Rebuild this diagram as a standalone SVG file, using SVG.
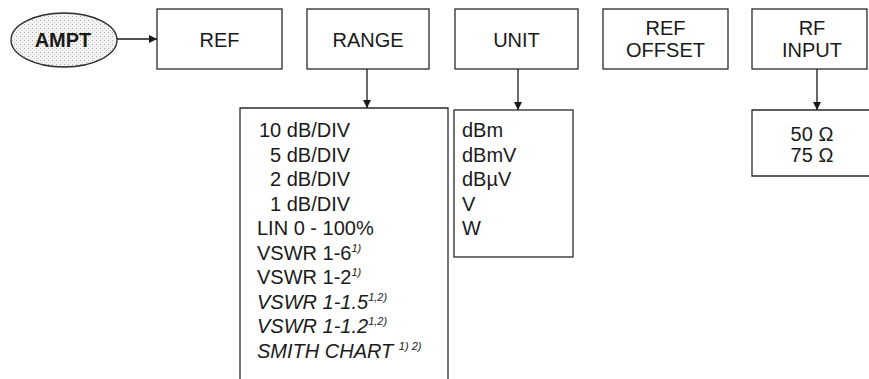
<svg xmlns="http://www.w3.org/2000/svg" width="869" height="379" viewBox="0 0 869 379">
<style>
.box{fill:#fff;stroke:#2a2a2a;stroke-width:1.3}
.lbl{font-family:"Liberation Sans",Arial,sans-serif;font-size:20px;fill:#1a1a1a;text-anchor:middle}
.lst{font-family:"Liberation Sans",Arial,sans-serif;font-size:20px;fill:#1a1a1a}
.it{font-style:italic}
.sup{font-size:11px;font-style:italic}
.con{stroke:#1a1a1a;stroke-width:1.3;fill:none}
</style>
<defs>
<marker id="ah" viewBox="0 0 10 10" refX="10" refY="5" markerWidth="10" markerHeight="8" markerUnits="userSpaceOnUse" orient="auto">
<path d="M0,0 L10,5 L0,10 Z" fill="#1a1a1a"/>
</marker>
<pattern id="stip" width="4" height="4" patternUnits="userSpaceOnUse">
<rect width="4" height="4" fill="#f4f4f4"/>
<rect x="0" y="0" width="1" height="1" fill="#a8a8a8"/>
<rect x="2" y="2" width="1" height="1" fill="#c8c8c8"/>
</pattern>
</defs>
<rect width="869" height="379" fill="#fff"/>
<g id="AMPT">
<ellipse cx="64" cy="40" rx="53" ry="27" fill="url(#stip)" stroke="#2a2a2a" stroke-width="1.3"/>
<text x="63" y="47" class="lbl" style="font-weight:bold">AMPT</text>
</g>
<g id="REF">
<rect class="box" x="157" y="9" width="125" height="60"/>
<text class="lbl" x="219.5" y="47">REF</text>
</g>
<g id="RANGE">
<rect class="box" x="307" y="9" width="122" height="60"/>
<text class="lbl" x="368" y="47">RANGE</text>
</g>
<g id="UNIT">
<rect class="box" x="455" y="9" width="123" height="60"/>
<text class="lbl" x="516.5" y="47">UNIT</text>
</g>
<g id="REF_OFFSET">
<rect class="box" x="603" y="9" width="125" height="60"/>
<text class="lbl" x="665.5" y="35">REF</text>
<text class="lbl" x="665.5" y="57">OFFSET</text>
</g>
<g id="RF_INPUT">
<rect class="box" x="752" y="9" width="115" height="60"/>
<text class="lbl" x="812" y="35">RF</text>
<text class="lbl" x="812" y="57">INPUT</text>
</g>
<g id="RANGE_LIST">
<path class="box" d="M240,380 V108 H448 V380"/>
<text class="lst" x="259" y="137">10 dB/DIV</text>
<text class="lst" x="270" y="161.5">5 dB/DIV</text>
<text class="lst" x="270" y="186">2 dB/DIV</text>
<text class="lst" x="270" y="210.5">1 dB/DIV</text>
<text class="lst" x="257" y="235">LIN 0 - 100%</text>
<text class="lst" x="257" y="259.5">VSWR 1-6<tspan class="sup" dy="-8">1)</tspan></text>
<text class="lst" x="257" y="284">VSWR 1-2<tspan class="sup" dy="-8">1)</tspan></text>
<text class="lst it" x="257" y="308.5">VSWR 1-1.5<tspan class="sup" dy="-8">1,2)</tspan></text>
<text class="lst it" x="257" y="333">VSWR 1-1.2<tspan class="sup" dy="-8">1,2)</tspan></text>
<text class="lst it" x="257" y="357.5">SMITH CHART <tspan class="sup" dy="-8">1) 2)</tspan></text>
</g>
<g id="UNIT_LIST">
<rect class="box" x="454" y="110" width="119" height="147"/>
<text class="lst" x="462" y="137">dBm</text>
<text class="lst" x="462" y="161.5">dBmV</text>
<text class="lst" x="462" y="186">dBµV</text>
<text class="lst" x="462" y="210.5">V</text>
<text class="lst" x="462" y="235">W</text>
</g>
<g id="RF_INPUT_LIST">
<path class="box" d="M872,110 H752 V176 H872"/>
<text class="lbl" x="812" y="141">50 Ω</text>
<text class="lbl" x="812" y="162">75 Ω</text>
</g>
<g id="connectors">
<line class="con" x1="117" y1="39" x2="157" y2="39" marker-end="url(#ah)"/>
<line class="con" x1="367" y1="69" x2="367" y2="108" marker-end="url(#ah)"/>
<line class="con" x1="518" y1="69" x2="518" y2="110" marker-end="url(#ah)"/>
<line class="con" x1="817" y1="69" x2="817" y2="110" marker-end="url(#ah)"/>
</g>
</svg>
